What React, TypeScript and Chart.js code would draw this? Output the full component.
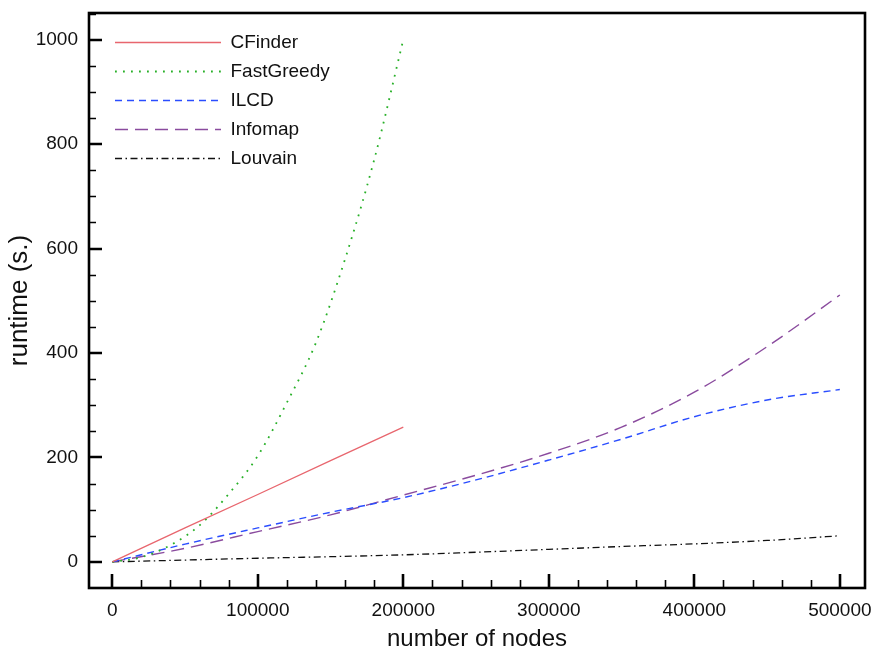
import React, { useEffect, useRef } from 'react';
import { Chart, registerables } from 'chart.js';

Chart.register(...registerables);

const seriesNames = ['CFinder', 'FastGreedy', 'ILCD', 'Infomap', 'Louvain'];

const cfinderX = [0, 50000, 100000, 150000, 200000];
const cfinderY = [0, 65, 129, 194, 258];

const fastGreedyX = [0, 20000, 40000, 60000, 80000, 100000, 120000, 140000, 160000, 180000, 200000];
const fastGreedyY = [0, 9, 32, 70, 130, 203, 305, 420, 580, 770, 1000];

const largeX = [0, 50000, 100000, 150000, 200000, 250000, 300000, 350000, 400000, 450000, 500000];
const ilcdY = [0, 34, 65, 95, 123, 157, 195, 235, 278, 310, 330];
const infomapY = [0, 26, 58, 90, 128, 166, 208, 258, 325, 412, 511];
const louvainY = [0, 3.5, 7, 10, 13.5, 18.5, 24, 29.5, 34.5, 41, 50];

const xTickValues = [0, 100000, 200000, 300000, 400000, 500000];
const yTickValues = [0, 200, 400, 600, 800, 1000];

const FONT = "'Liberation Sans', Arial, Helvetica, sans-serif";

const toPoints = (xs: number[], ys: number[]) => xs.map((x, i) => ({ x, y: ys[i] }));

const framePlugin = {
  id: 'frameTicks',
  afterDraw(chart: any) {
    const { ctx, chartArea: a, scales } = chart;
    const xs = scales.x;
    const ys = scales.y;
    ctx.save();
    ctx.strokeStyle = '#000';
    ctx.lineCap = 'butt';
    ctx.lineWidth = 1.6;
    ctx.beginPath();
    for (let v = 0; v <= 500000; v += 20000) {
      if (v % 100000 === 0) continue;
      const px = Math.round(xs.getPixelForValue(v)) + 0.5;
      ctx.moveTo(px, a.bottom);
      ctx.lineTo(px, a.bottom - 8);
    }
    for (let v = 0; v <= 1050; v += 50) {
      if (v % 200 === 0) continue;
      const py = Math.round(ys.getPixelForValue(v)) + 0.5;
      ctx.moveTo(a.left, py);
      ctx.lineTo(a.left + 7, py);
    }
    ctx.stroke();
    ctx.lineWidth = 2.6;
    ctx.beginPath();
    xTickValues.forEach((v) => {
      const px = Math.round(xs.getPixelForValue(v));
      ctx.moveTo(px, a.bottom);
      ctx.lineTo(px, a.bottom - 14);
    });
    yTickValues.forEach((v) => {
      const py = Math.round(ys.getPixelForValue(v));
      ctx.moveTo(a.left, py);
      ctx.lineTo(a.left + 13, py);
    });
    ctx.stroke();
    ctx.strokeRect(a.left, a.top, a.right - a.left, a.bottom - a.top);
    ctx.restore();
  },
};

const legendShift = {
  id: 'legendShift',
  afterLayout(chart: any) {
    const lg = chart.legend;
    if (lg) {
      lg.left += 16;
      lg.right += 16;
      lg.top += 23;
      lg.bottom += 23;
    }
  },
};

const noPadding = (s: any) => {
  s.paddingLeft = 0;
  s.paddingRight = 0;
  s.paddingTop = 0;
  s.paddingBottom = 0;
};

export default function App() {
  const ref = useRef<HTMLCanvasElement>(null);

  useEffect(() => {
    if (!ref.current) return;
    const common = { pointRadius: 0, borderWidth: 1.3, fill: false };
    const chart = new Chart(ref.current, {
      type: 'line',
      data: {
        datasets: [
          {
            ...common,
            label: seriesNames[0],
            data: toPoints(cfinderX, cfinderY),
            borderColor: '#e8666e',
            backgroundColor: '#e8666e',
            tension: 0,
          },
          {
            ...common,
            label: seriesNames[1],
            data: toPoints(fastGreedyX, fastGreedyY),
            borderColor: '#28b028',
            backgroundColor: '#28b028',
            borderWidth: 1.8,
            borderDash: [1.8, 6.2],
            cubicInterpolationMode: 'monotone',
          },
          {
            ...common,
            label: seriesNames[2],
            data: toPoints(largeX, ilcdY),
            borderColor: '#2a4dff',
            backgroundColor: '#2a4dff',
            borderWidth: 1.4,
            borderDash: [7, 5],
            cubicInterpolationMode: 'monotone',
          },
          {
            ...common,
            label: seriesNames[3],
            data: toPoints(largeX, infomapY),
            borderColor: '#8a4b9e',
            backgroundColor: '#8a4b9e',
            borderWidth: 1.4,
            borderDash: [13, 7],
            cubicInterpolationMode: 'monotone',
          },
          {
            ...common,
            label: seriesNames[4],
            data: toPoints(largeX, louvainY),
            borderColor: '#111111',
            backgroundColor: '#111111',
            borderDash: [7, 3.5, 1.5, 3.5],
            cubicInterpolationMode: 'monotone',
          },
        ],
      },
      options: {
        animation: false,
        responsive: false,
        devicePixelRatio: 1,
        layout: { padding: { top: 13, right: 6, left: 0, bottom: 0 } },
        plugins: {
          tooltip: { enabled: false },
          legend: {
            position: 'chartArea',
            align: 'start',
            labels: {
              usePointStyle: true,
              pointStyle: 'line',
              pointStyleWidth: 106,
              boxHeight: 19,
              padding: 10,
              color: '#111',
              font: { family: FONT, size: 19 },
              generateLabels: (ch: any) => {
                const items = (Chart as any).defaults.plugins.legend.labels.generateLabels(ch);
                return items.map((it: any) => {
                  const ds = ch.data.datasets[it.datasetIndex];
                  return {
                    ...it,
                    lineDash: ds.borderDash || [],
                    lineWidth: ds.borderWidth,
                    strokeStyle: ds.borderColor,
                    fillStyle: 'rgba(0,0,0,0)',
                  };
                });
              },
            },
          },
        },
        scales: {
          x: {
            type: 'linear',
            min: -16000,
            max: 517300,
            afterFit: (s: any) => { s.height = 63; noPadding(s); },
            afterBuildTicks: (s: any) => { s.ticks = xTickValues.map((v) => ({ value: v })); },
            grid: { display: false, drawTicks: false },
            border: { display: false },
            ticks: {
              padding: 11,
              maxRotation: 0,
              autoSkip: false,
              color: '#111',
              font: { family: FONT, size: 19 },
              callback: (v: any) => String(v),
            },
            title: {
              display: true,
              text: 'number of nodes',
              color: '#111',
              padding: { top: 0, bottom: 0 },
              font: { family: FONT, size: 24, lineHeight: 1 },
            },
          },
          y: {
            type: 'linear',
            min: -50,
            max: 1051,
            afterFit: (s: any) => { s.width = 89; noPadding(s); },
            afterBuildTicks: (s: any) => { s.ticks = yTickValues.map((v) => ({ value: v })); },
            grid: { display: false, drawTicks: false },
            border: { display: false },
            ticks: {
              padding: 11,
              autoSkip: false,
              color: '#111',
              font: { family: FONT, size: 19 },
              callback: (v: any) => String(v),
            },
            title: {
              display: true,
              text: 'runtime (s.)',
              color: '#111',
              padding: { top: 7, bottom: 0 },
              font: { family: FONT, size: 26, lineHeight: 1 },
            },
          },
        },
      },
      plugins: [framePlugin, legendShift],
    } as any);
    return () => chart.destroy();
  }, []);

  return (
    <div style={{ position: 'absolute', left: 0, top: 0, width: 871, height: 651, background: '#fff' }}>
      <canvas ref={ref} width={871} height={651} style={{ width: 871, height: 651 }} />
    </div>
  );
}
